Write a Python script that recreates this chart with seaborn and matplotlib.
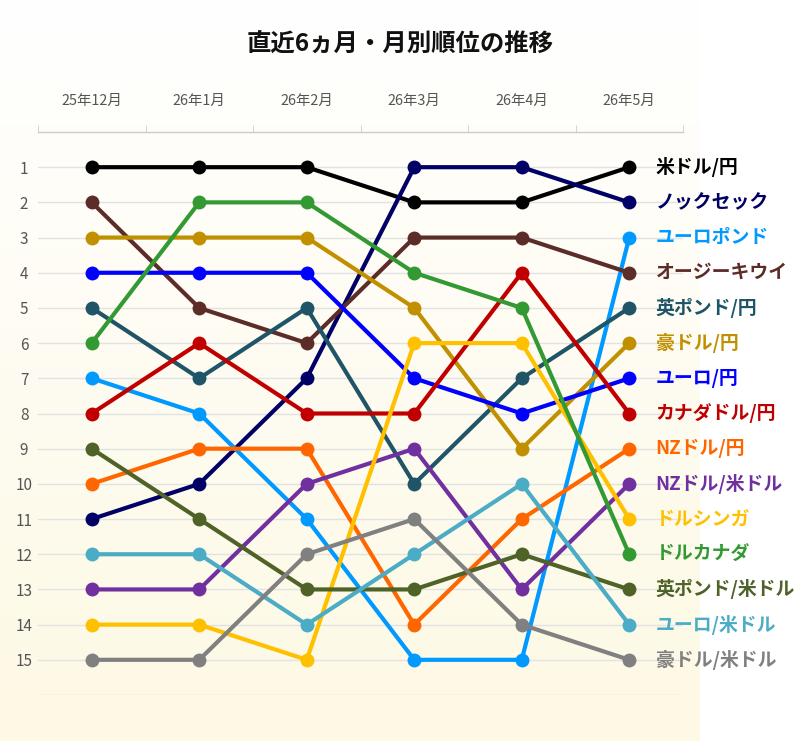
import numpy as np
import pandas as pd
import matplotlib
matplotlib.use('Agg')
import matplotlib.pyplot as plt
import seaborn as sns

sns.set_style('white')
plt.rcParams['font.family'] = ['Noto Sans CJK JP', 'DejaVu Sans']

# 月ラベル
months = ['25年12月', '26年1月', '26年2月', '26年3月', '26年4月', '26年5月']

# 通貨ペア名と色
pairs = ['米ドル/円', 'ノックセック', 'ユーロポンド', 'オージーキウイ', '英ポンド/円',
         '豪ドル/円', 'ユーロ/円', 'カナダドル/円', 'NZドル/円', 'NZドル/米ドル',
         'ドルシンガ', 'ドルカナダ', '英ポンド/米ドル', 'ユーロ/米ドル', '豪ドル/米ドル']
colors = ['#000000', '#000066', '#0099FF', '#5C2C28', '#1F5566',
          '#C09000', '#0000FF', '#C00000', '#FF6600', '#7030A0',
          '#FFC000', '#339933', '#4F6228', '#4BACC6', '#808080']

# 各月の順位
ranks = [
    [1, 1, 1, 2, 2, 1],
    [11, 10, 7, 1, 1, 2],
    [7, 8, 11, 15, 15, 3],
    [2, 5, 6, 3, 3, 4],
    [5, 7, 5, 10, 7, 5],
    [3, 3, 3, 5, 9, 6],
    [4, 4, 4, 7, 8, 7],
    [8, 6, 8, 8, 4, 8],
    [10, 9, 9, 14, 11, 9],
    [13, 13, 10, 9, 13, 10],
    [14, 14, 15, 6, 6, 11],
    [6, 2, 2, 4, 5, 12],
    [9, 11, 13, 13, 12, 13],
    [12, 12, 14, 12, 10, 14],
    [15, 15, 12, 11, 14, 15],
]

rows = []
for p, r in zip(pairs, ranks):
    for i, v in enumerate(r):
        rows.append({'pair': p, 'm': i, 'rank': v})
df = pd.DataFrame(rows)

fig = plt.figure(figsize=(8, 7.41), dpi=100)
fig.patch.set_facecolor('white')

# 背景のグラデーション（上は白、下はクリーム色）
bg = fig.add_axes([0, 0, 700 / 800, 1], zorder=0)
grad = np.linspace(0, 1, 256).reshape(-1, 1)
top = np.array([255, 255, 255]) / 255
bot = np.array([253, 249, 228]) / 255
img = top + (bot - top) * grad[..., None]
bg.imshow(img, aspect='auto', extent=[0, 1, 0, 1], origin='upper')
bg.set_xlim(0, 1)
bg.set_ylim(0, 1)
bg.axis('off')

ax = fig.add_axes([38 / 800, 1 - 695 / 741, 645 / 800, (695 - 132) / 741], zorder=1)
ax.patch.set_alpha(0)

for k in range(1, 17):
    ax.axhline(k, color='#e2e2e2', lw=1, zorder=0)

sns.lineplot(data=df, x='m', y='rank', hue='pair', hue_order=pairs, palette=colors,
             marker='o', markersize=10, markeredgewidth=0, linewidth=3,
             legend=False, sort=False, ax=ax)

for p, c, r in zip(pairs, colors, ranks):
    ax.text(5.245, r[-1], p, color=c, fontsize=13.6, fontweight='bold',
            va='center', ha='left', clip_on=False)

ax.set_xlim(-0.5, 5.5)
ax.set_ylim(16, 0)
ax.set_xlabel('')
ax.set_ylabel('')

ax.xaxis.tick_top()
ax.set_xticks(range(6))
ax.set_xticklabels(months, fontsize=10.4, color='#555555')
ax.set_xticks(np.arange(-0.5, 5.6, 1), minor=True)
ax.tick_params(axis='x', which='major', length=0, pad=17)
ax.tick_params(axis='x', which='minor', length=5, color='#cccccc', direction='out', top=True, bottom=False)

ax.set_yticks(range(1, 16))
ax.set_yticklabels([str(i) for i in range(1, 16)], fontsize=11, color='#555555')
ax.tick_params(axis='y', length=0, pad=10)
for t in ax.get_yticklabels():
    t.set_horizontalalignment('center')
    t.set_x(-0.0)

for s in ['left', 'right', 'bottom']:
    ax.spines[s].set_visible(False)
ax.spines['top'].set_color('#cccccc')
ax.spines['top'].set_linewidth(1)

fig.text(0.5, 1 - 45 / 741, '直近6ヵ月・月別順位の推移', ha='center', va='center',
         fontsize=17.6, fontweight='bold', color='#111111')

fig.savefig('out.png', dpi=100)
